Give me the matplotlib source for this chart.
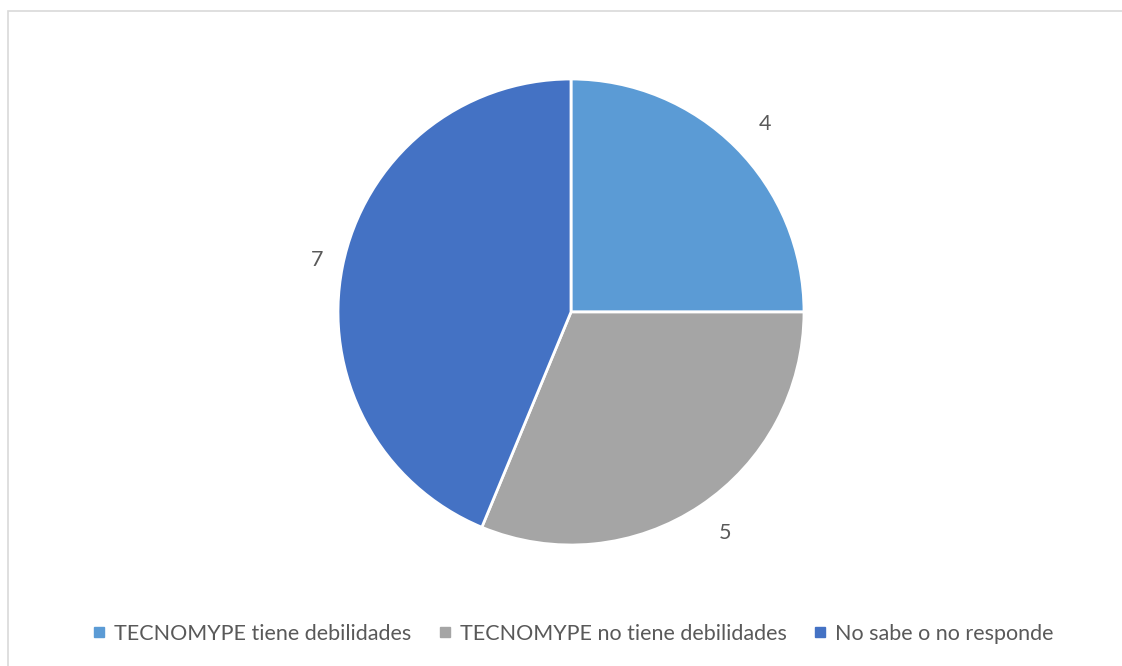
import matplotlib.pyplot as plt
from matplotlib.lines import Line2D
from matplotlib.patches import Rectangle

# respuestas de la encuesta
categorias = ["TECNOMYPE tiene debilidades", "TECNOMYPE no tiene debilidades", "No sabe o no responde"]
valores = [4, 5, 7]
colores = ["#5B9BD5", "#A5A5A5", "#4472C4"]

plt.rcParams['font.family'] = ['Lato', 'DejaVu Sans']
gris_texto = "#595959"

W, H = 1122, 666
fig = plt.figure(figsize=(W / 100, H / 100), dpi=100)

# marco del grafico
fig.patches.append(Rectangle((8 / W, -0.05), 1.1, (H - 11) / H + 0.05, transform=fig.transFigure,
                             fill=False, edgecolor="#D9D9D9", linewidth=1.2))

cx, cy, r = 571, 312, 233
ax = fig.add_axes([(cx - r) / W, (H - cy - r) / H, 2 * r / W, 2 * r / H])
wedges, textos = ax.pie(valores, colors=colores, startangle=90, counterclock=False,
                        labels=[str(v) for v in valores], labeldistance=1.14,
                        wedgeprops=dict(edgecolor="white", linewidth=2),
                        textprops=dict(color=gris_texto, fontsize=15.5))
# la etiqueta del sector mayor queda algo mas cerca del borde
textos[2].set_position((textos[2].get_position()[0] * 0.95, textos[2].get_position()[1]))
ax.set_xlim(-1, 1)
ax.set_ylim(-1, 1)
ax.set_aspect("equal")
ax.axis("off")

manejadores = [Line2D([], [], marker="s", linestyle="none", markersize=6.5,
                      markerfacecolor=c, markeredgecolor=c) for c in colores]
fig.legend(manejadores, categorias, loc="center", bbox_to_anchor=(574 / W, 1 - 634 / H),
           ncol=3, frameon=False, fontsize=15.5, labelcolor=gris_texto,
           handlelength=0.5, handletextpad=0.45, columnspacing=1.3)

fig.savefig("out.png", dpi=100)
